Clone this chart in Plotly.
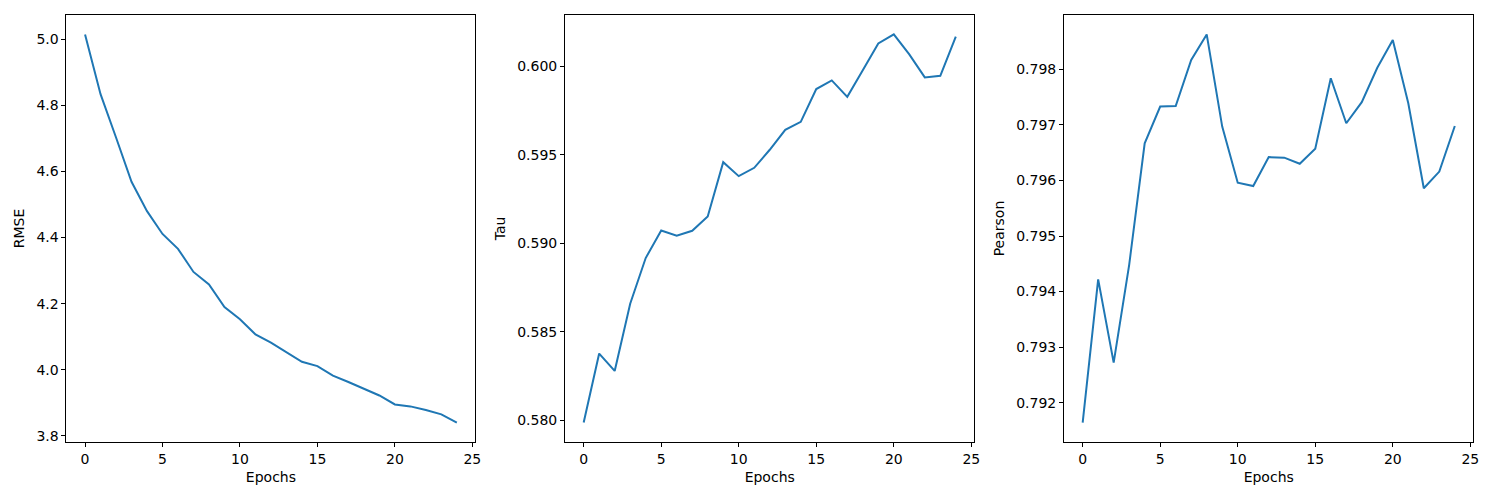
import plotly.graph_objects as go
from plotly.subplots import make_subplots

# 训练过程中各指标随 epoch 的变化
epochs = list(range(25))

rmse = [5.015, 4.834, 4.703, 4.569, 4.480, 4.411, 4.366, 4.296, 4.258, 4.190,
        4.153, 4.107, 4.082, 4.052, 4.024, 4.011, 3.982, 3.963, 3.942, 3.922,
        3.895, 3.889, 3.878, 3.865, 3.840]

tau = [0.57987, 0.58377, 0.58279, 0.58659, 0.58917, 0.59073, 0.59043, 0.59071,
       0.59152, 0.59459, 0.59380, 0.59427, 0.59529, 0.59642, 0.59687, 0.59872,
       0.59921, 0.59828, 0.59979, 0.60130, 0.60181, 0.60068, 0.59938, 0.59947,
       0.60169]

pearson = [0.79164, 0.79422, 0.79272, 0.79448, 0.79667, 0.79733, 0.79734,
           0.79817, 0.79863, 0.79697, 0.79596, 0.79590, 0.79642, 0.79641,
           0.79630, 0.79657, 0.79784, 0.79703, 0.79741, 0.79803, 0.79853,
           0.79739, 0.79586, 0.79616, 0.79698]

panels = [("RMSE", rmse, 0.2, ".1f"),
          ("Tau", tau, 0.005, ".3f"),
          ("Pearson", pearson, 0.001, ".3f")]

W, H = 1500, 500
OFF = 8  # 页面 body 默认 8px 边距
# 每个子图的像素边界 (左, 右)
x_px = [(66.7, 477.3), (567.3, 978.3), (1068.3, 1479.3)]

fig = make_subplots(rows=1, cols=3)

font = dict(family="DejaVu Sans", size=14, color="black")

for i, (name, vals, dt, fmt) in enumerate(panels):
    fig.add_trace(go.Scatter(x=epochs, y=vals, mode="lines",
                             line=dict(color="#1f77b4", width=2),
                             showlegend=False), row=1, col=i + 1)
    # matplotlib 默认 5% 边距
    lo, hi = min(vals), max(vals)
    pad = (hi - lo) * 0.05
    xn = len(epochs) - 1
    ax = dict(showline=True, linecolor="black", linewidth=1, mirror=True,
              ticks="outside", ticklen=4, tickcolor="black", tickwidth=1,
              showgrid=False, zeroline=False, tickfont=font)
    l, r = x_px[i]
    fig.update_xaxes(domain=[(l - OFF) / W, (r - OFF) / W],
                     range=[-0.05 * xn, xn * 1.05],
                     tick0=0, dtick=5,
                     title=dict(text="Epochs", font=font, standoff=6),
                     row=1, col=i + 1, **ax)
    fig.update_yaxes(range=[lo - pad, hi + pad], tick0=0, dtick=dt,
                     tickformat=fmt,
                     title=dict(text=name, font=font, standoff=8),
                     row=1, col=i + 1, **ax)

fig.update_layout(width=W, height=H, plot_bgcolor="white",
                  paper_bgcolor="white",
                  margin=dict(l=0, r=0, t=15 - OFF, b=58 + OFF))

fig.write_html("out.html")
